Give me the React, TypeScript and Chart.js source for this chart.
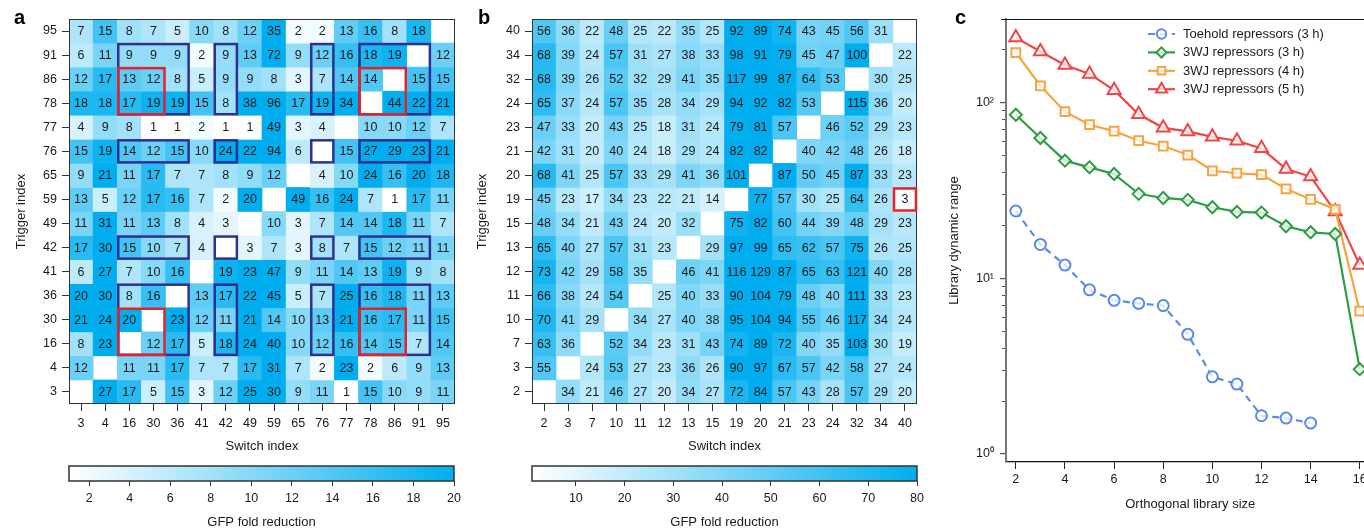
import React, { useEffect, useRef } from 'react';
import { Chart, registerables } from 'chart.js';
import { drawPoint } from 'chart.js/helpers';

Chart.register(...registerables);

const FONT = "'Liberation Sans', Arial, Helvetica, sans-serif";
const TEXT = '#1a1a1a';
const HIGH = [0, 174, 239];

// ---------- Panel a ----------
const aSwitchLabels = ['3', '4', '16', '30', '36', '41', '42', '49', '59', '65', '76', '77', '78', '86', '91', '95'];
const aTriggerLabels = ['95', '91', '86', '78', '77', '76', '65', '59', '49', '42', '41', '36', '30', '16', '4', '3'];
const aFold = [
  [7, 15, 8, 7, 5, 10, 8, 12, 35, 2, 2, 13, 16, 8, 18, null],
  [6, 11, 9, 9, 9, 2, 9, 13, 72, 9, 12, 16, 18, 19, null, 12],
  [12, 17, 13, 12, 8, 5, 9, 9, 8, 3, 7, 14, 14, null, 15, 15],
  [18, 18, 17, 19, 19, 15, 8, 38, 96, 17, 19, 34, null, 44, 22, 21],
  [4, 9, 8, 1, 1, 2, 1, 1, 49, 3, 4, null, 10, 10, 12, 7],
  [15, 19, 14, 12, 15, 10, 24, 22, 94, 6, null, 15, 27, 29, 23, 21],
  [9, 21, 11, 17, 7, 7, 8, 9, 12, null, 4, 10, 24, 16, 20, 18],
  [13, 5, 12, 17, 16, 7, 2, 20, null, 49, 16, 24, 7, 1, 17, 11],
  [11, 31, 11, 13, 8, 4, 3, null, 10, 3, 7, 14, 14, 18, 11, 7],
  [17, 30, 15, 10, 7, 4, null, 3, 7, 3, 8, 7, 15, 12, 11, 11],
  [6, 27, 7, 10, 16, null, 19, 23, 47, 9, 11, 14, 13, 19, 9, 8],
  [20, 30, 8, 16, null, 13, 17, 22, 45, 5, 7, 25, 16, 18, 11, 13],
  [21, 24, 20, null, 23, 12, 11, 21, 14, 10, 13, 21, 16, 17, 11, 15],
  [8, 23, null, 12, 17, 5, 18, 24, 40, 10, 12, 16, 14, 15, 7, 14],
  [12, null, 11, 11, 17, 7, 7, 17, 31, 7, 2, 23, 2, 6, 9, 13],
  [null, 27, 17, 5, 15, 3, 12, 25, 30, 9, 11, 1, 15, 10, 9, 11],
];
const aColorMin = 1;
const aColorMax = 20;
const aColorTicks = [2, 4, 6, 8, 10, 12, 14, 16, 18, 20];
const aBlueRowGroups = [['91', '86', '78'], ['76'], ['42'], ['36', '30', '16']];
const aBlueColGroups = [['16', '30', '36'], ['42'], ['76'], ['78', '86', '91']];
const aRedRowGroups = [['86', '78'], ['30', '16']];
const aRedColGroups = [['16', '30'], ['78', '86']];

// ---------- Panel b ----------
const bSwitchLabels = ['2', '3', '7', '10', '11', '12', '13', '15', '19', '20', '21', '23', '24', '32', '34', '40'];
const bTriggerLabels = ['40', '34', '32', '24', '23', '21', '20', '19', '15', '13', '12', '11', '10', '7', '3', '2'];
const bFold = [
  [56, 36, 22, 48, 25, 22, 35, 25, 92, 89, 74, 43, 45, 56, 31, null],
  [68, 39, 24, 57, 31, 27, 38, 33, 98, 91, 79, 45, 47, 100, null, 22],
  [68, 39, 26, 52, 32, 29, 41, 35, 117, 99, 87, 64, 53, null, 30, 25],
  [65, 37, 24, 57, 35, 28, 34, 29, 94, 92, 82, 53, null, 115, 36, 20],
  [47, 33, 20, 43, 25, 18, 31, 24, 79, 81, 57, null, 46, 52, 29, 23],
  [42, 31, 20, 40, 24, 18, 29, 24, 82, 82, null, 40, 42, 48, 26, 18],
  [68, 41, 25, 57, 33, 29, 41, 36, 101, null, 87, 50, 45, 87, 33, 23],
  [45, 23, 17, 34, 23, 22, 21, 14, null, 77, 57, 30, 25, 64, 26, 3],
  [48, 34, 21, 43, 24, 20, 32, null, 75, 82, 60, 44, 39, 48, 29, 23],
  [65, 40, 27, 57, 31, 23, null, 29, 97, 99, 65, 62, 57, 75, 26, 25],
  [73, 42, 29, 58, 35, null, 46, 41, 116, 129, 87, 65, 63, 121, 40, 28],
  [66, 38, 24, 54, null, 25, 40, 33, 90, 104, 79, 48, 40, 111, 33, 23],
  [70, 41, 29, null, 34, 27, 40, 38, 95, 104, 94, 55, 46, 117, 34, 24],
  [63, 36, null, 52, 34, 23, 31, 43, 74, 89, 72, 40, 35, 103, 30, 19],
  [55, null, 24, 53, 27, 23, 36, 26, 90, 97, 67, 57, 42, 58, 27, 24],
  [null, 34, 21, 46, 27, 20, 34, 27, 72, 84, 57, 43, 28, 57, 29, 20],
];
const bColorMin = 1;
const bColorMax = 80;
const bColorTicks = [10, 20, 30, 40, 50, 60, 70, 80];
const bRedRowGroups = [['19']];
const bRedColGroups = [['40']];

// ---------- Panel c ----------
const cSizes = [2, 3, 4, 5, 6, 7, 8, 9, 10, 11, 12, 13, 14, 15, 16];
const cToehold3h = [24.2, 15.6, 11.9, 8.6, 7.5, 7.2, 7.0, 4.8, 2.75, 2.5, 1.65, 1.6, 1.5];
const c3wj3h = [85.5, 63, 46.8, 42.9, 39.3, 30.3, 28.7, 28, 25.4, 23.9, 23.7, 19.8, 18.3, 17.9, 3.04];
const c3wj4h = [193, 125, 89, 75, 69, 60.8, 56.7, 50.4, 41, 39.7, 39, 32.3, 28.2, 24.7, 6.5];
const c3wj5h = [235, 196, 164, 146, 118, 86, 72, 68.7, 64, 60.8, 55, 42, 38, 24, 11.9];
const cSeriesNames = ['Toehold repressors (3 h)', '3WJ repressors (3 h)', '3WJ repressors (4 h)', '3WJ repressors (5 h)'];
const cXTicks = [2, 4, 6, 8, 10, 12, 14, 16];
const cMajorTicks = [1, 10, 100];
const cMajorLabels = ['10\u2070', '10\u00B9', '10\u00B2'];
const cMinorTicks = [2, 3, 4, 5, 6, 7, 8, 9, 20, 30, 40, 50, 60, 70, 80, 90, 200];

function foldColor(v, min, max) {
  const t = Math.max(0, Math.min(1, (v - min) / (max - min)));
  const c = [255, 255, 255].map((w, k) => Math.round(w + (HIGH[k] - w) * t));
  return `rgb(${c[0]},${c[1]},${c[2]})`;
}

function crossBoxes(rowGroups, colGroups, color) {
  const out = [];
  rowGroups.forEach((rg) => colGroups.forEach((cg) => out.push({ rows: rg, cols: cg, color })));
  return out;
}

function ChartCanvas({ left, top, width, height, makeConfig }) {
  const ref = useRef(null);
  useEffect(() => {
    const chart = new Chart(ref.current, makeConfig());
    return () => chart.destroy();
  }, []);
  return (
    <canvas
      ref={ref}
      width={width}
      height={height}
      style={{ position: 'absolute', left, top, width, height }}
    />
  );
}

function heatmapConfig(opts) {
  const { cols, rows, values, min, max, boxes, padRight, yAxisWidth, yTitlePad, height } = opts;
  const datasets = rows.map((r, i) => ({
    label: r,
    data: values[i].map((v) => (v == null ? null : [i - 0.5, i + 0.5])),
    backgroundColor: values[i].map((v) => (v == null ? 'rgba(0,0,0,0)' : foldColor(v, min, max))),
    borderWidth: 0,
    grouped: false,
    barPercentage: 1,
    categoryPercentage: 1,
  }));
  const cellPlugin = {
    id: 'cells',
    afterDatasetsDraw(chart) {
      const ctx = chart.ctx;
      const ca = chart.chartArea;
      ctx.save();
      ctx.font = `12.5px ${FONT}`;
      ctx.fillStyle = TEXT;
      ctx.textAlign = 'center';
      ctx.textBaseline = 'middle';
      chart.data.datasets.forEach((ds, i) => {
        const meta = chart.getDatasetMeta(i);
        meta.data.forEach((el, j) => {
          const v = values[i][j];
          if (v == null) return;
          const p = el.getCenterPoint();
          ctx.fillText(String(v), p.x, p.y + 0.5);
        });
      });
      // frame
      ctx.strokeStyle = '#333';
      ctx.lineWidth = 1;
      ctx.strokeRect(ca.left + 0.5, ca.top + 0.5, ca.right - ca.left - 1, ca.bottom - ca.top - 1);
      // boxes
      const xs = chart.scales.x;
      const ys = chart.scales.y;
      const half = (xs.getPixelForValue(1) - xs.getPixelForValue(0)) / 2;
      ctx.lineWidth = 2.5;
      boxes.forEach((b) => {
        const ci = b.cols.map((c) => cols.indexOf(c));
        const ri = b.rows.map((r) => rows.indexOf(r));
        const c0 = Math.min(...ci);
        const c1 = Math.max(...ci);
        const r0 = Math.min(...ri);
        const r1 = Math.max(...ri);
        const x0 = xs.getPixelForValue(c0) - half;
        const x1 = xs.getPixelForValue(c1) + half;
        const y0 = ys.getPixelForValue(r0 - 0.5);
        const y1 = ys.getPixelForValue(r1 + 0.5);
        ctx.strokeStyle = b.color;
        ctx.strokeRect(x0 + 1, y0 + 1, x1 - x0 - 2, y1 - y0 - 2);
      });
      ctx.restore();
    },
  };
  return {
    type: 'bar',
    data: { labels: cols, datasets },
    options: {
      animation: false,
      responsive: false,
      devicePixelRatio: 1,
      events: [],
      layout: { padding: { top: 19, right: padRight, left: 0, bottom: 0 } },
      plugins: { legend: { display: false }, tooltip: { enabled: false } },
      scales: {
        x: {
          type: 'category',
          offset: true,
          grid: { display: true, drawOnChartArea: false, drawTicks: true, tickLength: 7, color: '#333', offset: false },
          border: { display: false },
          ticks: { font: { family: FONT, size: 12.5 }, color: TEXT, padding: 5, maxRotation: 0, autoSkip: false },
          title: { display: true, text: 'Switch index', color: TEXT, font: { family: FONT, size: 13 }, padding: { top: 0, bottom: 5.5 } },
          afterFit: (s) => {
            s.height = height - 404;
          },
        },
        y: {
          type: 'linear',
          reverse: true,
          min: -0.5,
          max: rows.length - 0.5,
          afterBuildTicks: (s) => {
            s.ticks = rows.map((_, i) => ({ value: i }));
          },
          grid: { display: true, drawOnChartArea: false, drawTicks: true, tickLength: 7, color: '#333' },
          border: { display: false },
          ticks: {
            font: { family: FONT, size: 12.5 },
            color: TEXT,
            padding: 5,
            autoSkip: false,
            callback: (v) => rows[v],
          },
          title: { display: true, text: 'Trigger index', color: TEXT, font: { family: FONT, size: 13 }, padding: { top: yTitlePad, bottom: 0 } },
          afterFit: (s) => {
            s.width = yAxisWidth;
          },
        },
      },
    },
    plugins: [cellPlugin],
  };
}

function colorBarConfig(opts) {
  const { min, max, ticks, padLeft, padRight, height } = opts;
  const gradPlugin = {
    id: 'grad',
    beforeDatasetsDraw(chart) {
      const ctx = chart.ctx;
      const ca = chart.chartArea;
      const xs = chart.scales.x;
      const g = ctx.createLinearGradient(xs.getPixelForValue(min), 0, xs.getPixelForValue(max), 0);
      g.addColorStop(0, foldColor(min, min, max));
      g.addColorStop(1, foldColor(max, min, max));
      ctx.save();
      ctx.fillStyle = g;
      ctx.fillRect(ca.left, ca.top, ca.right - ca.left, ca.bottom - ca.top);
      ctx.strokeStyle = '#333';
      ctx.lineWidth = 1.5;
      ctx.strokeRect(ca.left, ca.top, ca.right - ca.left, ca.bottom - ca.top);
      ctx.restore();
    },
  };
  return {
    type: 'scatter',
    data: { datasets: [{ data: [] }] },
    options: {
      animation: false,
      responsive: false,
      devicePixelRatio: 1,
      events: [],
      layout: { padding: { top: 11, left: padLeft, right: padRight, bottom: 0 } },
      plugins: { legend: { display: false }, tooltip: { enabled: false } },
      scales: {
        x: {
          type: 'linear',
          min,
          max,
          afterBuildTicks: (s) => {
            s.ticks = ticks.map((v) => ({ value: v }));
          },
          grid: { display: true, drawOnChartArea: false, tickLength: 5, color: '#333' },
          border: { display: false },
          ticks: { font: { family: FONT, size: 12.5 }, color: TEXT, padding: 5, maxRotation: 0, autoSkip: false, callback: (v) => String(v) },
          title: { display: true, text: 'GFP fold reduction', color: TEXT, font: { family: FONT, size: 13, lineHeight: 1 }, padding: { top: 0, bottom: 1 } },
          afterFit: (s) => {
            s.height = height - 26;
          },
        },
        y: { display: false },
      },
    },
    plugins: [gradPlugin],
  };
}

const cStyles = [
  { color: '#5a8ddf', style: 'circle', radius: 5.5, dash: [7, 5] },
  { color: '#2e9d44', style: 'rectRot', radius: 6, dash: [] },
  { color: '#f5a442', style: 'rect', radius: 6.2, dash: [] },
  { color: '#ef4646', style: 'triangle', radius: 7.5, dash: [] },
];

function lineConfig() {
  const series = [cToehold3h, c3wj3h, c3wj4h, c3wj5h];
  const datasets = series.map((vals, i) => ({
    label: cSeriesNames[i],
    data: vals.map((v, k) => ({ x: cSizes[k], y: v })),
    borderColor: cStyles[i].color,
    borderWidth: 2.2,
    borderDash: cStyles[i].dash,
    pointStyle: cStyles[i].style,
    pointRadius: cStyles[i].radius,
    pointBorderWidth: 2,
    pointBorderColor: cStyles[i].color,
    pointBackgroundColor: 'rgba(255,255,255,0.75)',
    tension: 0,
    fill: false,
  }));
  const legendPlugin = {
    id: 'cLegend',
    afterDraw(chart) {
      const ctx = chart.ctx;
      const x0 = 208;
      chart.data.datasets.forEach((ds, i) => {
        const y = 34 + i * 18.4;
        ctx.save();
        ctx.strokeStyle = ds.borderColor;
        ctx.lineWidth = ds.borderWidth;
        ctx.setLineDash(ds.borderDash || []);
        ctx.beginPath();
        ctx.moveTo(x0, y);
        ctx.lineTo(x0 + 27, y);
        ctx.stroke();
        ctx.setLineDash([]);
        ctx.fillStyle = ds.pointBackgroundColor;
        ctx.strokeStyle = ds.pointBorderColor;
        ctx.lineWidth = ds.pointBorderWidth;
        drawPoint(ctx, { pointStyle: ds.pointStyle, radius: ds.pointRadius * 0.85, borderWidth: ds.pointBorderWidth, rotation: 0 }, x0 + 13.5, y);
        ctx.fillStyle = TEXT;
        ctx.font = `13px ${FONT}`;
        ctx.textAlign = 'left';
        ctx.textBaseline = 'middle';
        ctx.fillText(ds.label, x0 + 35, y + 0.5);
        ctx.restore();
      });
      // top frame line
      const ca = chart.chartArea;
      ctx.save();
      ctx.strokeStyle = '#111';
      ctx.lineWidth = 1;
      ctx.beginPath();
      ctx.moveTo(ca.left - 5, ca.top + 0.5);
      ctx.lineTo(ca.right, ca.top + 0.5);
      ctx.stroke();
      ctx.restore();
    },
  };
  return {
    type: 'line',
    data: { datasets },
    options: {
      animation: false,
      responsive: false,
      devicePixelRatio: 1,
      events: [],
      layout: { padding: { top: 19, right: 10.5, left: 0, bottom: 0 } },
      plugins: { legend: { display: false }, tooltip: { enabled: false } },
      scales: {
        x: {
          type: 'linear',
          min: 1.6,
          max: 16.6,
          afterBuildTicks: (s) => {
            s.ticks = cXTicks.map((v) => ({ value: v }));
          },
          grid: { display: true, drawOnChartArea: false, tickLength: 7, color: '#222' },
          border: { display: true, color: '#111', width: 1.2 },
          ticks: { font: { family: FONT, size: 12.5 }, color: TEXT, padding: 3.5, maxRotation: 0, callback: (v) => String(v) },
          title: { display: true, text: 'Orthogonal library size', color: TEXT, font: { family: FONT, size: 13 }, padding: { top: 0, bottom: 16 } },
          afterFit: (s) => {
            s.height = 66;
          },
        },
        y: {
          type: 'logarithmic',
          position: 'left',
          weight: 1,
          min: 0.9,
          max: 300,
          afterBuildTicks: (s) => {
            s.ticks = cMajorTicks.map((v) => ({ value: v, major: true }));
          },
          grid: { display: true, drawOnChartArea: false, tickLength: 6, color: '#555', lineWidth: 1.2 },
          border: { display: true, color: '#777', width: 2 },
          ticks: {
            font: { family: FONT, size: 12.5 },
            color: TEXT,
            padding: 6,
            callback: (v) => {
              const k = cMajorTicks.indexOf(v);
              return k >= 0 ? cMajorLabels[k] : '';
            },
          },
          title: { display: true, text: 'Library dynamic range', color: TEXT, font: { family: FONT, size: 13 }, padding: { top: 7, bottom: 0 } },
          afterFit: (s) => {
            s.width = 66;
          },
        },
        yMinor: {
          type: 'logarithmic',
          position: 'left',
          weight: 0,
          min: 0.9,
          max: 300,
          afterBuildTicks: (s) => {
            s.ticks = cMinorTicks.map((v) => ({ value: v }));
          },
          grid: { display: true, drawOnChartArea: false, tickLength: 4, color: '#555', lineWidth: 1 },
          border: { display: false },
          ticks: { display: false },
          afterFit: (s) => {
            s.width = 0;
          },
        },
      },
    },
    plugins: [legendPlugin],
  };
}

const letterStyle = {
  position: 'absolute',
  font: `bold 20px ${FONT}`,
  lineHeight: '20px',
  color: '#000',
};

export default function App() {
  return (
    <div style={{ position: 'fixed', left: 0, top: 0, width: 1364, height: 528, overflow: 'hidden', background: '#fff' }}>
      <ChartCanvas
        left={0}
        top={0}
        width={470}
        height={460}
        makeConfig={() =>
          heatmapConfig({
            cols: aSwitchLabels,
            rows: aTriggerLabels,
            values: aFold,
            min: aColorMin,
            max: aColorMax,
            boxes: [
              ...crossBoxes(aBlueRowGroups, aBlueColGroups, '#2e3192'),
              ...crossBoxes(aRedRowGroups, aRedColGroups, '#e5222a'),
            ],
            padRight: 15,
            yAxisWidth: 69,
            yTitlePad: 14,
            height: 460,
          })
        }
      />
      <ChartCanvas
        left={0}
        top={455}
        width={470}
        height={75}
        makeConfig={() => colorBarConfig({ min: aColorMin, max: aColorMax, ticks: aColorTicks, padLeft: 69, padRight: 16, height: 75 })}
      />
      <ChartCanvas
        left={470}
        top={0}
        width={470}
        height={460}
        makeConfig={() =>
          heatmapConfig({
            cols: bSwitchLabels,
            rows: bTriggerLabels,
            values: bFold,
            min: bColorMin,
            max: bColorMax,
            boxes: crossBoxes(bRedRowGroups, bRedColGroups, '#e5222a'),
            padRight: 23,
            yAxisWidth: 62,
            yTitlePad: 5,
            height: 460,
          })
        }
      />
      <ChartCanvas
        left={470}
        top={455}
        width={470}
        height={75}
        makeConfig={() => colorBarConfig({ min: bColorMin, max: bColorMax, ticks: bColorTicks, padLeft: 62, padRight: 23, height: 75 })}
      />
      <ChartCanvas left={940} top={0} width={445} height={528} makeConfig={lineConfig} />
      <div style={{ ...letterStyle, left: 14, top: 7 }}>a</div>
      <div style={{ ...letterStyle, left: 478, top: 7 }}>b</div>
      <div style={{ ...letterStyle, left: 955, top: 7 }}>c</div>
    </div>
  );
}
